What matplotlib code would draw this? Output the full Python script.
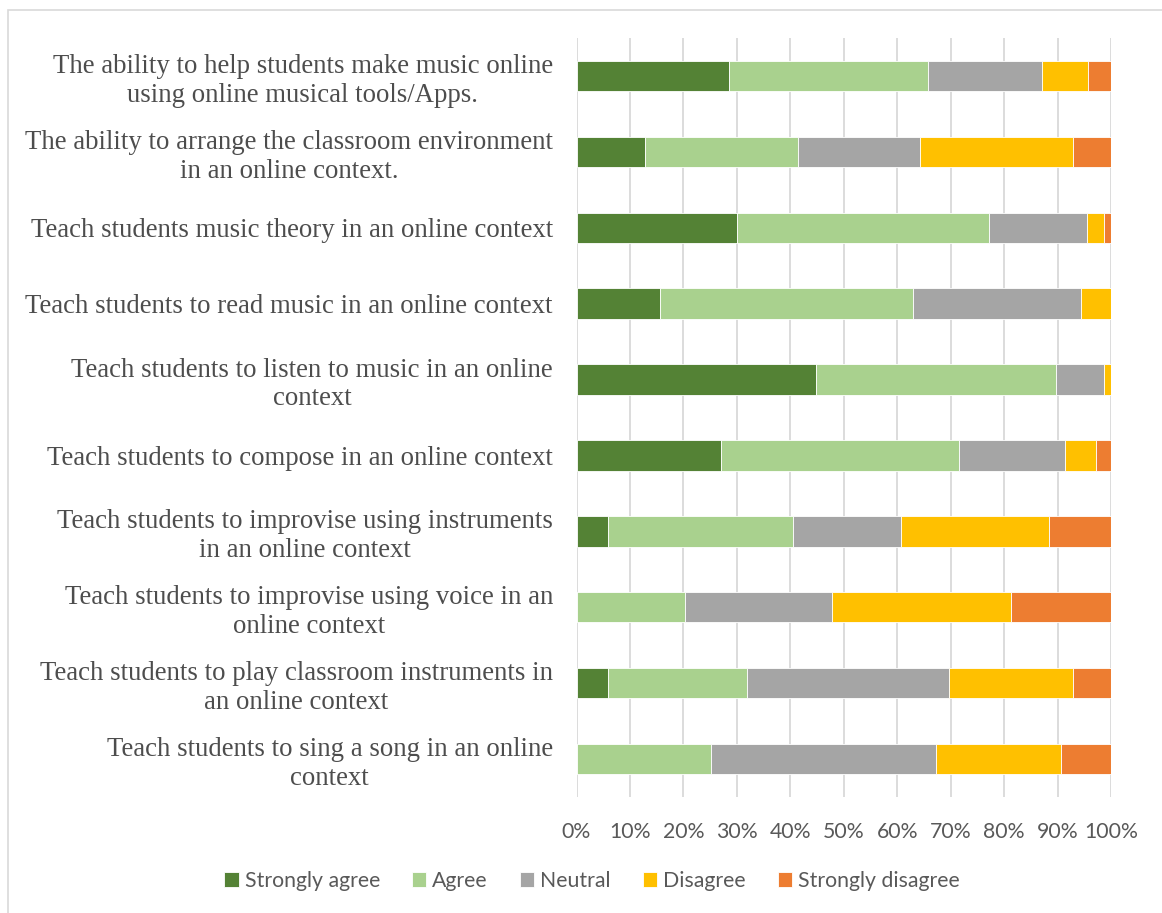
import numpy as np
import matplotlib
matplotlib.use("Agg")
import matplotlib.pyplot as plt
from matplotlib.patches import Rectangle
from matplotlib.ticker import PercentFormatter

# Survey items, top to bottom
items = [
    "The ability to help students make music online\nusing online musical tools/Apps.",
    "The ability to arrange the classroom environment\nin an online context.",
    "Teach students music theory in an online context",
    "Teach students to read music in an online context",
    "Teach students to listen to music in an online\ncontext",
    "Teach students to compose in an online context",
    "Teach students to improvise using instruments\nin an online context",
    "Teach students to improvise using voice in an\nonline context",
    "Teach students to play classroom instruments in\nan online context",
    "Teach students to sing a song in an online\ncontext",
]

# percentages
strongly_agree = [28.6, 12.8, 30.1, 15.6, 44.8, 27.1, 5.8, 0.0, 5.8, 0.0]
agree = [37.1, 28.6, 47.1, 47.3, 45.0, 44.4, 34.7, 20.3, 26.1, 25.1]
neutral = [21.4, 22.9, 18.4, 31.4, 8.8, 19.9, 20.3, 27.5, 37.7, 42.1]
disagree = [8.6, 28.6, 3.0, 5.7, 1.4, 5.8, 27.6, 33.4, 23.2, 23.5]
strongly_disagree = [4.3, 7.1, 1.4, 0.0, 0.0, 2.8, 11.6, 18.8, 7.2, 9.3]

series = [
    ("Strongly agree", strongly_agree, "#548235"),
    ("Agree", agree, "#A9D18E"),
    ("Neutral", neutral, "#A5A5A5"),
    ("Disagree", disagree, "#FFC000"),
    ("Strongly disagree", strongly_disagree, "#ED7D31"),
]

W, H = 1162, 913
fig = plt.figure(figsize=(W / 100, H / 100), dpi=100)
fig.patch.set_facecolor("white")

# light frame around the chart area (as in the Excel export)
fig.patches.append(Rectangle((8 / W, -0.05), 1.1, 1 - 10 / H + 0.05,
                             transform=fig.transFigure, fill=False,
                             edgecolor="#D9D9D9", linewidth=1.2))

ax = fig.add_axes([576.5 / W, 1 - 797 / H, (1111 - 576.5) / W, (797 - 38) / H])

y = np.arange(len(items))
left = np.zeros(len(items))
for name, vals, color in series:
    vals = np.array(vals)
    ax.barh(y, vals, left=left, height=0.4, color=color, label=name,
            edgecolor="white", linewidth=0.6, zorder=3)
    left += vals

ax.set_ylim(len(items) - 0.5, -0.5)
ax.set_xlim(0, 100)
ax.set_xticks(np.arange(0, 101, 10))
ax.xaxis.set_major_formatter(PercentFormatter(decimals=0))
ax.set_yticks(y)
ax.set_yticklabels(items, family="Liberation Serif", fontsize=19.3,
                   color="#4D4D4D", multialignment="center",
                   linespacing=1.2)

for lab in ax.get_xticklabels():
    lab.set_family("Lato")
    lab.set_fontsize(15.3)
    lab.set_color("#595959")

ax.tick_params(axis="y", length=0, pad=17)
ax.tick_params(axis="x", length=0, pad=18)
for s in ax.spines.values():
    s.set_visible(False)

ax.grid(axis="x", color="#D9D9D9", linewidth=1.3, zorder=0)
ax.set_axisbelow(True)

fig.legend(loc="center", bbox_to_anchor=(592 / W, 1 - 881 / H), ncol=5,
           frameon=False, handlelength=0.68, handleheight=0.68,
           handletextpad=0.28, columnspacing=1.5,
           prop={"family": "Lato", "size": 15.3}, labelcolor="#595959")

fig.savefig("out.png", dpi=100)
